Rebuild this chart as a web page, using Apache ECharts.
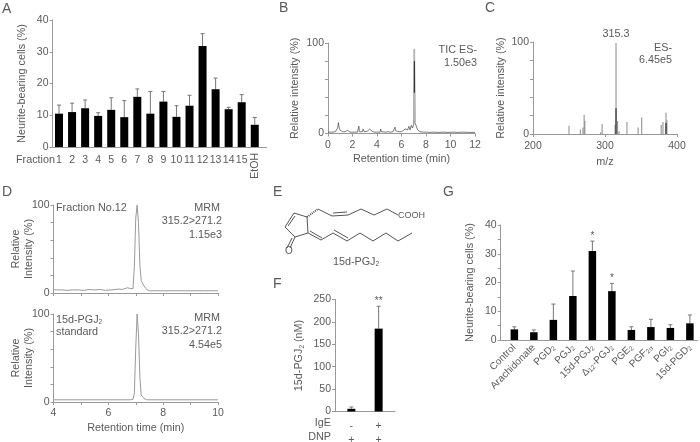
<!DOCTYPE html>
<html>
<head>
<meta charset="utf-8">
<style>html,body{margin:0;background:#fff}#main{width:700px;height:442px}</style>
<script src="https://cdn.jsdelivr.net/npm/echarts@6/dist/echarts.min.js"></script>
</head>
<body>
<div id="main"></div>
<script>
// panel A
const fractionLabels = ['1','2','3','4','5','6','7','8','9','10','11','12','13','14','15','EtOH'];
const fractionValues = [10.5,11,12.2,9.8,11.7,9.4,15.8,10.5,14.3,9.5,13,31.8,18.2,11.9,14.1,7];
const fractionTops = [13.2,13.8,14.8,10.8,15.5,14.6,18.3,17.5,17.5,13,16.3,35.7,21.7,12.5,16.5,9.3];

// panel B
const ticTime = [0,0.1,0.2,0.3,0.4,0.5,0.6,0.7,0.78,0.85,0.92,1,1.1,1.2,1.3,1.4,1.5,1.6,1.7,1.8,1.9,2,2.1,2.2,2.3,2.4,2.47,2.52,2.57,2.8,2.87,2.95,3.1,3.2,3.3,3.4,3.5,3.6,3.7,3.8,4,4.1,4.25,4.3,4.35,4.5,4.7,4.9,5.1,5.3,5.42,5.47,5.52,5.8,6,6.15,6.3,6.4,6.5,6.6,6.7,6.8,6.9,7,7.05,7.1,7.17,7.25,7.32,7.4,7.5,7.6,7.8,8,8.3,8.6,9,9.4,9.8,10.2,10.6,11,11.5,12];
const ticValues = [1.5,2,1.5,2.5,1.5,3,2,4,6,12,6,3.5,2.5,2,3,2,3.5,3.5,2,1.5,2,1.5,2.5,1.5,2,1.5,2,8,2,2,5,2,1.5,2.5,2,5,3,2.5,2,1.5,1.5,2.5,1.5,5,2,2,1.5,2,1.5,2,2,7,3,2,2,3,5,3,4,8,4,9,6,10,93,12,14,12,4,3,2,2,1.5,1.5,1.2,1.5,1.2,1.5,1.2,1.5,1.2,1.5,1.2,1.2];
const ticPeakTime = [7.02,7.05,7.08];
const ticPeakValues = [14,93,14];
const ticCoreTime = [7.05,7.05];
const ticCoreValues = [45,80];

// panel C
const msMz = [250,265.7,269.4,271,272,294,296,314,315.3,317.5,319.5,330.5,346,351,378,380.5,384.7,386];
const msValues = [9,5,7,21,14,2,11,10,99,14,3,13,7,18,10,13,23,15];
const msDarkMz = [315.3,384.7];
const msDarkValues = [28,12];

// panel D
const fractionMrmTime = [4,4.1,4.3,4.5,4.7,4.9,5.1,5.3,5.5,5.7,5.9,6.1,6.25,6.4,6.5,6.6,6.7,6.8,6.9,6.95,7,7.05,7.1,7.15,7.2,7.3,7.4,7.5,7.7,8,8.5,9,9.5,10];
const fractionMrmValues = [4,3.5,3.5,3,3.5,3.5,3,4,3.5,4,3,3.5,4,4.5,4,5,6,5,5,30,85,100,80,32,14,8,4,2.5,2.5,2.5,2.5,2.5,2.5,2.5];
const standardMrmTime = [4,5,6,6.8,6.9,6.95,7,7.05,7.1,7.15,7.2,7.3,7.4,7.6,8,9,10];
const standardMrmValues = [2.5,2.5,2.5,2.5,3,10,62,100,78,28,8,4,2.5,2.5,2.5,2.5,2.5];

// panel F
const ige = ['-','+'];
const dnp = ['+','+'];
const pgj2Values = [6,185];
const pgj2Tops = [10,235];
const pgj2Stars = ['','**'];

// panel G
const prostanoids = ['Control','Arachidonate','PGD{s|2}','PGJ{s|2}','15d-PGJ{s|2}','Δ{s|12}-PGJ{s|2}','PGE{s|2}','PGF{s|2α}','PGI{s|2}','15d-PGD{s|2}'];
const prostanoidValues = [3.7,2.7,7,15.3,31,17,3.5,4.5,4.2,5.8];
const prostanoidTops = [4.6,3.5,12.5,24,34.4,19.7,4.6,7.2,5.3,8.7];
const prostanoidStars = ['','','','','*','*','','','',''];

const font = '"Liberation Sans", Arial, sans-serif';
const textColor = '#5a5a5a';
const axisColor = '#999';
const fontSize = 10.8;
const subStyle = {fontSize: 6.5, fontFamily: font, color: textColor, verticalAlign: 'bottom', padding: [4, 0, 0, 0]};
const nameStyle = {fontFamily: font, fontSize, color: textColor, lineHeight: 13, rich: {s: subStyle}};

const isWhole = v => Math.abs(v - Math.round(v)) < 1e-6;
const toPoints = (xs, ys) => xs.map((x, i) => [x, ys[i]]);

function grid(left, top, width, height) {
  return {left, top, width, height, outerBoundsMode: 'none'};
}

function yAxis(gridIndex, max, interval, labelEvery, name, nameGap) {
  return {
    type: 'value', gridIndex, min: 0, max, interval,
    name, nameLocation: 'middle', nameGap, nameRotate: 90, nameMoveOverlap: false,
    nameTextStyle: nameStyle,
    splitLine: {show: false},
    axisLine: {show: true, lineStyle: {color: axisColor}},
    axisTick: {show: true, length: 3, lineStyle: {color: axisColor}},
    axisLabel: {
      fontFamily: font, fontSize: 10.5, color: textColor, margin: 4,
      formatter: v => (v % labelEvery === 0 ? String(v) : '')
    }
  };
}

function xAxis(gridIndex, min, max, interval, labelFn, extra) {
  return Object.assign({
    type: 'value', gridIndex, min, max, interval, position: 'bottom', nameMoveOverlap: false,
    splitLine: {show: false},
    axisLine: {show: true, onZero: false, lineStyle: {color: axisColor}},
    axisTick: {show: true, length: 3, lineStyle: {color: axisColor}},
    axisLabel: {
      fontFamily: font, fontSize: 10.5, color: textColor, margin: 6,
      showMinLabel: true, showMaxLabel: true, hideOverlap: false,
      formatter: labelFn
    }
  }, extra || {});
}

// x axes for the bar panels: bars sit on whole numbers, the rest of the ticks stay hidden
function barXAxis(gridIndex, min, max, interval, labels, labelExtra) {
  const ax = xAxis(gridIndex, min, max, interval,
    v => (isWhole(v) && labels[Math.round(v) - 1] !== undefined ? labels[Math.round(v) - 1] : ''));
  ax.axisTick = {show: false};
  Object.assign(ax.axisLabel, labelExtra || {});
  return ax;
}

function barSeries(idx, values, barWidth) {
  return {
    type: 'bar', xAxisIndex: idx[0], yAxisIndex: idx[1], barWidth,
    itemStyle: {color: '#000'}, silent: true,
    data: values.map((v, i) => [i + 1, v])
  };
}

function errorSeries(idx, values, tops, stars) {
  return {
    type: 'custom', xAxisIndex: idx[0], yAxisIndex: idx[1], silent: true, z: 1,
    encode: {x: 0, y: 1},
    data: tops.map((t, i) => [i + 1, t, values[i]]),
    renderItem(params, api) {
      const top = api.coord([api.value(0), api.value(1)]);
      const base = api.coord([api.value(0), api.value(2)]);
      const style = {stroke: '#777', lineWidth: 1};
      const children = [
        {type: 'line', shape: {x1: top[0], y1: top[1], x2: base[0], y2: base[1]}, style},
        {type: 'line', shape: {x1: top[0] - 2, y1: top[1], x2: top[0] + 2, y2: top[1]}, style}
      ];
      if (stars && stars[params.dataIndex]) {
        children.push({type: 'text', x: top[0], y: top[1] - 5,
          style: {text: stars[params.dataIndex], fill: textColor, fontSize: 10, fontFamily: font, align: 'center', verticalAlign: 'middle'}});
      }
      return {type: 'group', children};
    }
  };
}

function traceSeries(idx, points, color, width) {
  return {
    type: 'line', xAxisIndex: idx[0], yAxisIndex: idx[1], silent: true,
    symbol: 'none', animation: false, clip: false,
    lineStyle: {color, width}, data: points
  };
}

function stickSeries(idx, xs, ys, color) {
  return {
    type: 'bar', xAxisIndex: idx[0], yAxisIndex: idx[1], barWidth: 1, barGap: '-100%', silent: true,
    itemStyle: {color}, data: toPoints(xs, ys)
  };
}

function label(text, x, y, align, size) {
  return {
    type: 'text', x, y,
    style: {text, fill: textColor, fontFamily: font, fontSize: size || fontSize, align: align || 'left', verticalAlign: 'middle', rich: {s: subStyle}}
  };
}

function bond(x1, y1, x2, y2, dash) {
  return {
    type: 'line', shape: {x1, y1, x2, y2},
    style: {stroke: '#555', lineWidth: dash ? 2 : 1, lineDash: dash ? [1, 1] : null}
  };
}

// skeletal formula of 15d-PGJ2 in panel E
const formula = [
  bond(307,217,294,213), bond(294,213,285,227), bond(285,227,295,237), bond(295,237,308,233), bond(308,233,307,217),
  bond(295,216,288,226),
  bond(295,237,290,248), bond(292,238,287,248),
  bond(307,217,318,209,true), bond(318,209,332,216),
  bond(332,216,348,215), bond(333,213,347,212),
  bond(348,215,361,209), bond(361,209,374,215), bond(374,215,387,209), bond(387,209,398,215),
  bond(308,233,321,240), bond(310,231,322,238), bond(321,240,333,233),
  bond(333,233,347,241), bond(334,230,348,238),
  bond(347,241,360,233), bond(360,233,373,241), bond(373,241,386,233), bond(386,233,398,241), bond(398,241,412,233)
];

const texts = [
  label('A', 2, 9, 'left', 14), label('B', 279, 8, 'left', 14), label('C', 485, 8, 'left', 14),
  label('D', 2, 192, 'left', 14), label('E', 273, 192, 'left', 14), label('F', 273, 284, 'left', 14), label('G', 443, 192, 'left', 14),
  label('Fraction', 16, 160),
  label('TIC ES-', 477, 50, 'right'), label('1.50e3', 477, 63, 'right'),
  label('315.3', 616, 34, 'center'), label('ES-', 672, 48, 'right'), label('6.45e5', 672, 60, 'right'),
  label('Fraction No.12', 56, 208),
  label('MRM', 220, 208, 'right'), label('315.2>271.2', 222, 221, 'right'), label('1.15e3', 222, 235, 'right'),
  label('15d-PGJ{s|2}', 56, 320), label('standard', 56, 332),
  label('MRM', 220, 318, 'right'), label('315.2>271.2', 222, 331, 'right'), label('4.54e5', 222, 345, 'right'),
  label('COOH', 398, 216, 'left', 9), label('O', 289, 251, 'center', 10), label('15d-PGJ{s|2}', 356, 262, 'center'),
  label('IgE', 331, 423, 'right'), label('DNP', 331, 437, 'right')
];

const option = {
  animation: false,
  grid: [
    grid(52.5, 20, 214, 127),
    grid(328, 43, 147, 90.5),
    grid(533, 42, 144, 92),
    grid(53.5, 205, 164.5, 88),
    grid(53.5, 314, 164.5, 88),
    grid(335, 299.5, 60, 112),
    grid(500.7, 225, 197, 115)
  ],
  yAxis: [
    yAxis(0, 40, 10, 10, 'Neurite-bearing cells (%)', 24),
    yAxis(1, 100, 20, 100, 'Relative intensity (%)', 26),
    yAxis(2, 100, 20, 100, 'Relative intensity (%)', 25),
    yAxis(3, 100, 20, 100, 'Relative\nIntensity (%)', 18),
    yAxis(4, 100, 20, 100, 'Relative\nIntensity (%)', 18),
    yAxis(5, 250, 50, 50, '15d-PGJ{s|2} (nM)', 29),
    yAxis(6, 40, 5, 10, 'Neurite-bearing cells (%)', 24)
  ],
  xAxis: [
    barXAxis(0, 0.5, 16.9, 0.5, fractionLabels.slice(0, 15), {margin: 8}),
    barXAxis(0, 0.5, 16.9, 0.5, fractionLabels.map((f, i) => (i === 15 ? f : '')), {rotate: 90, margin: 6}),
    xAxis(1, 0, 12, 2, v => String(v), {name: 'Retention time (min)', nameLocation: 'middle', nameGap: 19, nameTextStyle: nameStyle}),
    xAxis(2, 200, 400, 100, v => String(v), {name: 'm/z', nameLocation: 'middle', nameGap: 22, nameTextStyle: nameStyle, axisLabel: {fontFamily: font, fontSize: 10.5, color: textColor, margin: 7, formatter: v => String(v)}}),
    xAxis(3, 4, 10, 1, () => ''),
    xAxis(4, 4, 10, 1, v => (v % 2 === 0 ? String(v) : ''), {name: 'Retention time (min)', nameLocation: 'middle', nameGap: 20, nameTextStyle: nameStyle}),
    barXAxis(5, 0.4, 2.6, 0.2, ige.map((s, i) => s + '\n' + dnp[i]), {lineHeight: 14, margin: 8}),
    barXAxis(6, 0.3, 10.4, 0.1, prostanoids, {rotate: 45, margin: 6, fontSize: 10, rich: {s: subStyle}})
  ],
  series: [
    errorSeries([0, 0], fractionValues, fractionTops),
    barSeries([0, 0], fractionValues, 8),
    traceSeries([2, 1], toPoints(ticTime, ticValues), '#444', 0.7),
    traceSeries([2, 1], toPoints(ticPeakTime, ticPeakValues), '#b5b5b5', 1.6),
    traceSeries([2, 1], toPoints(ticCoreTime, ticCoreValues), '#222', 1),
    stickSeries([3, 2], msMz, msValues, '#888'),
    stickSeries([3, 2], msDarkMz, msDarkValues, '#111'),
    traceSeries([4, 3], toPoints(fractionMrmTime, fractionMrmValues), '#999', 1),
    traceSeries([5, 4], toPoints(standardMrmTime, standardMrmValues), '#999', 1),
    errorSeries([6, 5], pgj2Values, pgj2Tops, pgj2Stars),
    barSeries([6, 5], pgj2Values, 8),
    errorSeries([7, 6], prostanoidValues, prostanoidTops, prostanoidStars),
    barSeries([7, 6], prostanoidValues, 7.5)
  ],
  graphic: {elements: texts.concat(formula)}
};

const chart = echarts.init(document.getElementById('main'));
chart.setOption(option);
</script>
</body>
</html>
